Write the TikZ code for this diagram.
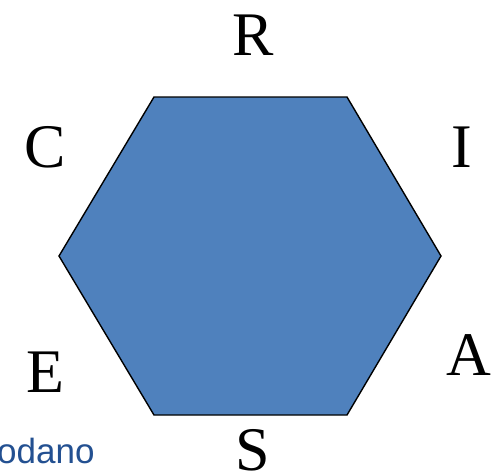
\documentclass[tikz,border=0pt]{standalone}
\usepackage{fontspec}
\setmainfont{Liberation Serif}
\newfontfamily\labelsans{Liberation Sans}
\usepackage{xcolor}
\definecolor{hexblue}{RGB}{79,129,189}
\definecolor{capblue}{RGB}{35,80,145}
\usepackage{tikz}
\usetikzlibrary{positioning}

\begin{document}
\begin{tikzpicture}[
  x=1pt, y=-1pt,
  face/.style={draw=black, line width=1.4pt, fill=hexblue, line join=miter},
  letter/.style={font=\fontsize{62}{62}\selectfont, text=black, anchor=base, inner sep=0pt},
  caption/.style={font=\labelsans\fontsize{35}{35}\selectfont, text=capblue, anchor=base west, inner sep=0pt}
]
\useasboundingbox (0,0) rectangle (494,472);

% Hexagon
\coordinate (tl) at (154,97);
\coordinate (tr) at (347,97);
\coordinate (rt) at (441,256);
\coordinate (br) at (347,415);
\coordinate (bl) at (154,415);
\coordinate (lt) at (59,256);
\draw[face] (tl) -- (tr) -- (rt) -- (br) -- (bl) -- (lt) -- cycle;

% Letters round the hexagon
\node[letter] (r) at (253,55) {R};
\node[letter] (i) at (462,167) {I};
\node[letter] (a) at (469,375) {A};
\node[letter] (s) at (253,470) {S};
\node[letter] (e) at (45,392) {E};
\node[letter] (c) at (45,167) {C};

% Cut-off caption
\node[caption] (cap) at (-3,463) {odano};
\end{tikzpicture}
\end{document}
